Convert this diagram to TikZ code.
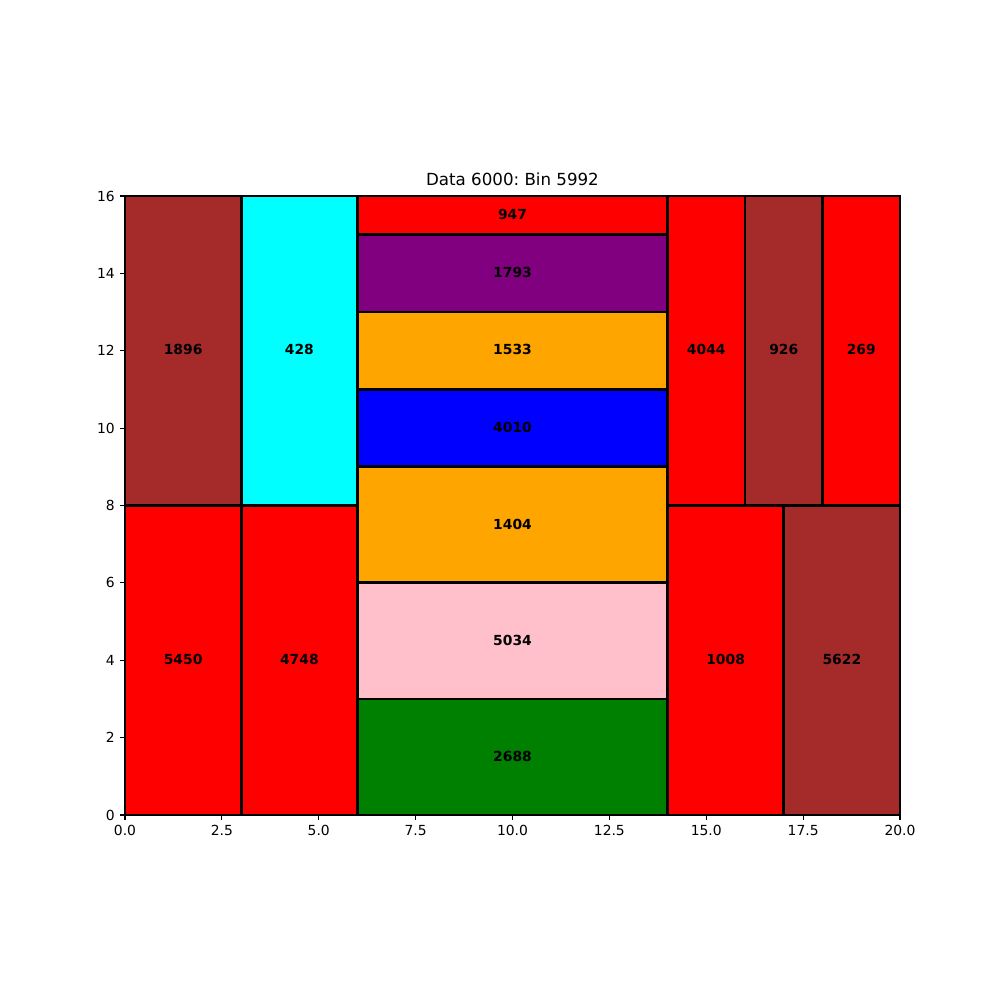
\documentclass[tikz,border=0pt]{standalone}
\usepackage{fontspec}
\setmainfont{DejaVu Sans}
\frenchspacing
\definecolor{mbrown}{HTML}{A52A2A}
\definecolor{mcyan}{HTML}{00FFFF}
\definecolor{mred}{HTML}{FF0000}
\definecolor{morange}{HTML}{FFA500}
\definecolor{mblue}{HTML}{0000FF}
\definecolor{mpurple}{HTML}{800080}
\definecolor{mpink}{HTML}{FFC0CB}
\definecolor{mgreen}{HTML}{008000}
\tikzset{
  bin/.style={draw=black, line width=1.39pt},
  lbl/.style={font=\fontsize{6.94}{8}\selectfont\bfseries, inner sep=0pt, yshift=0.4pt},
  tick/.style={font=\fontsize{6.94}{8}\selectfont, inner sep=0pt},
}
\begin{document}
\begin{tikzpicture}[x=19.375pt, y=19.344pt]
\useasboundingbox (-62.5pt,-92.5pt) rectangle (437.5pt,407.5pt);
% rectangles: fill, label
\newcommand{\binrect}[6]{%
  \filldraw[bin, fill=#5] (#1,#2) rectangle (#3,#4);
  \node[lbl] (n#6) at ({(#1+#3)/2},{(#2+#4)/2}) {#6};
}
\binrect{0}{8}{3}{16}{mbrown}{1896}
\binrect{3}{8}{6}{16}{mcyan}{428}
\binrect{0}{0}{3}{8}{mred}{5450}
\binrect{3}{0}{6}{8}{mred}{4748}
\binrect{6}{15}{14}{16}{mred}{947}
\binrect{6}{13}{14}{15}{mpurple}{1793}
\binrect{6}{11}{14}{13}{morange}{1533}
\binrect{6}{9}{14}{11}{mblue}{4010}
\binrect{6}{6}{14}{9}{morange}{1404}
\binrect{6}{3}{14}{6}{mpink}{5034}
\binrect{6}{0}{14}{3}{mgreen}{2688}
\binrect{14}{8}{16}{16}{mred}{4044}
\binrect{16}{8}{18}{16}{mbrown}{926}
\binrect{18}{8}{20}{16}{mred}{269}
\binrect{14}{0}{17}{8}{mred}{1008}
\binrect{17}{0}{20}{8}{mbrown}{5622}
% axes frame
\draw[line width=0.56pt] (0,0) rectangle (20,16);
% x ticks
\foreach \v/\t in {0/0.0,2.5/2.5,5/5.0,7.5/7.5,10/10.0,12.5/12.5,15/15.0,17.5/17.5,20/20.0}{
  \draw[line width=0.56pt] (\v,0) -- ++(0,-2.43pt);
  \node[tick, anchor=north] (xt\v) at ([yshift=-4.9pt]\v,0) {\t};
}
% y ticks
\foreach \v in {0,2,...,16}{
  \draw[line width=0.56pt] (0,\v) -- ++(-2.43pt,0);
  \node[tick, anchor=east] (yt\v) at ([xshift=-4.9pt]0,\v) {\v};
}
\node[font=\fontsize{8.33}{10}\selectfont, anchor=base, inner sep=0pt] (title) at ([yshift=5pt]10,16) {Data 6000: Bin 5992};
\end{tikzpicture}
\end{document}
